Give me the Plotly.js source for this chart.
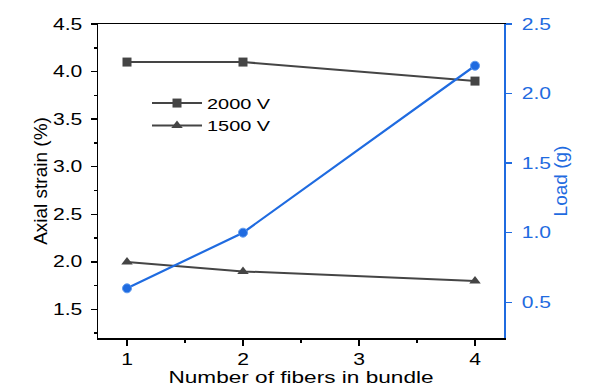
<!DOCTYPE html>
<html><head><meta charset="utf-8">
<script src="https://cdn.plot.ly/plotly-3.0.1.min.js"></script>
<style>html,body{margin:0;padding:0;background:#fff}</style>
</head><body>
<div id="chart" style="width:590px;height:389px"></div>
<script>
const fibers = [1, 2, 4];
const strain2000 = [4.1, 4.1, 3.9];
const strain1500 = [2.0, 1.9, 1.8];
const load = [0.6, 1.0, 2.2];
const xTicks = [1, 2, 3, 4];

const gray = '#454545';
const blue = '#1f6be0';
const font = 'Arial, "Liberation Sans", sans-serif';

const traces = [
  {x: fibers, y: strain2000, name: '2000 V', type: 'scatter', mode: 'lines+markers',
   line: {color: gray, width: 2}, marker: {symbol: 'square', size: 9, color: gray}},
  {x: fibers, y: strain1500, name: '1500 V', type: 'scatter', mode: 'lines+markers',
   line: {color: gray, width: 2}, marker: {symbol: 'triangle-up', size: 10, color: gray}},
  {x: fibers, y: load, name: 'Load', type: 'scatter', mode: 'lines+markers', yaxis: 'y2',
   showlegend: false,
   line: {color: blue, width: 2.2}, marker: {symbol: 'circle', size: 9, color: blue,
   line: {color: '#5f9bf0', width: 1}}}
];

const layout = {
  width: 590, height: 389,
  margin: {l: 98, r: 86, t: 24, b: 51},
  paper_bgcolor: '#fff', plot_bgcolor: '#fff',
  font: {family: font, size: 16, color: '#000'},
  showlegend: true,
  legend: {x: 0.1207, y: 0.80, xanchor: 'left', yanchor: 'top', bgcolor: 'rgba(0,0,0,0)',
    font: {family: font, size: 15, color: '#000'}, tracegroupgap: 0, itemwidth: 50},
  xaxis: {range: [0.75, 4.25], tickvals: xTicks, ticktext: xTicks.map(String),
    showgrid: false, zeroline: false, showline: true, linecolor: '#000', linewidth: 1.5,
    mirror: true, ticks: 'outside', ticklen: 6, tickwidth: 1.5, tickcolor: '#000',
    minor: {dtick: 0.5, tick0: 0.5, ticks: 'outside', ticklen: 3, tickwidth: 1.5, tickcolor: '#000', showgrid: false},
    tickfont: {size: 16},
    title: {text: 'Number of fibers in bundle', font: {size: 17}, standoff: 3}},
  yaxis: {range: [1.2, 4.5], dtick: 0.5, tick0: 1.5, tickformat: '.1f',
    showgrid: false, zeroline: false, showline: true, linecolor: '#000', linewidth: 1.5,
    ticks: 'outside', ticklen: 6, tickwidth: 1.5, tickcolor: '#000', ticklabelstandoff: 5,
    minor: {dtick: 0.25, tick0: 0, ticks: 'outside', ticklen: 3, tickwidth: 1.5, tickcolor: '#000', showgrid: false},
    tickfont: {size: 16},
    title: {text: 'Axial strain (%)', font: {size: 19}, standoff: 7}},
  yaxis2: {overlaying: 'y', side: 'right', range: [0.243, 2.5], dtick: 0.5, tick0: 0.5, tickformat: '.1f',
    showgrid: false, zeroline: false, showline: true, linecolor: blue, linewidth: 1.5,
    ticks: 'outside', ticklen: 6, tickwidth: 1.5, tickcolor: blue, ticklabelstandoff: 7,
    tickfont: {size: 16, color: blue},
    title: {text: 'Load (g)', font: {size: 19, color: blue}, standoff: 10}}
};

// widen glyphs along their reading direction, about each text's anchor point
function widen(selector, s) {
  document.querySelectorAll(selector).forEach(t => {
    const x = parseFloat(t.getAttribute('x')) || 0;
    const y = parseFloat(t.getAttribute('y')) || 0;
    const tr = t.getAttribute('transform') || '';
    t.setAttribute('transform', tr + ' translate(' + x + ',' + y + ') scale(' + s + ',1) translate(' + (-x) + ',' + (-y) + ')');
  });
}

Plotly.newPlot('chart', traces, layout, {displayModeBar: false, staticPlot: true}).then(() => {
  widen('#chart .xtick text', 1.32);
  widen('#chart .ytick text', 1.32);
  widen('#chart .y2tick text', 1.32);
  widen('#chart .g-xtitle text', 1.33);
  widen('#chart .legendtext', 1.33);
  document.querySelectorAll('#chart .legend, #chart .legend [clip-path]').forEach(e => e.removeAttribute('clip-path'));
});
</script>
</body></html>
